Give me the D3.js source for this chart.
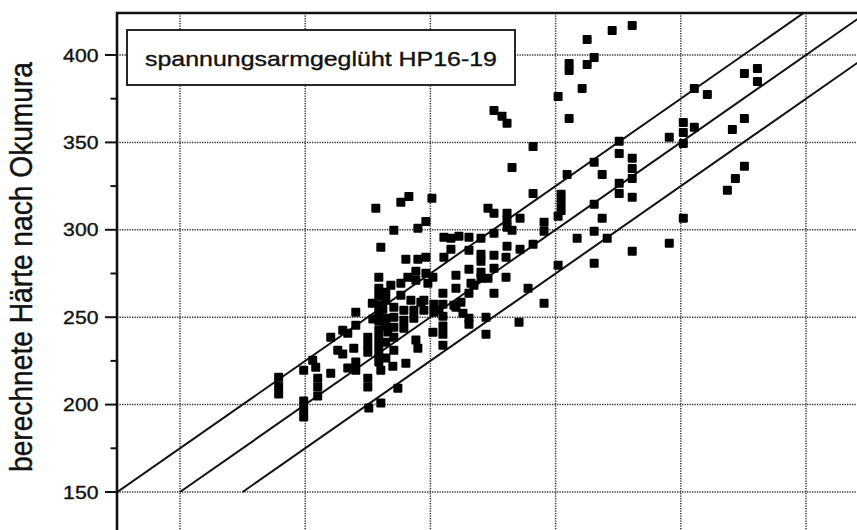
<!DOCTYPE html>
<html><head><meta charset="utf-8">
<script src="https://cdn.jsdelivr.net/npm/d3@7"></script>
<style>
html,body{margin:0;padding:0;background:#fff;}
svg{display:block;}
text{font-family:"Liberation Sans",Arial,Helvetica,sans-serif;fill:#111;stroke:#111;stroke-width:0.35px;}
</style></head><body>
<svg id="c" width="857" height="530"></svg>
<script>
// measured hardness (x) and calculated hardness after Okumura (y)
const gemessen = [
189.4,189.4,189.4,199.4,199.4,199.4,199.4,203.0,204.2,205.0,205.0,205.0,210.2,210.2,215.0,217.0,213.0,215.0,219.4,220.2,
220.2,217.0,220.2,220.2,225.0,225.0,225.0,225.0,225.0,225.4,230.2,230.2,235.0,240.2,237.0,244.2,245.0,251.0,255.0,255.0,
255.0,272.2,272.2,228.2,238.2,241.4,250.6,235.4,245.0,248.2,230.2,240.2,245.0,248.2,229.4,234.2,241.0,244.2,248.2,251.0,
244.2,229.4,229.4,229.4,229.4,229.4,229.4,229.4,229.4,229.4,229.4,232.2,232.2,232.2,232.2,232.2,232.2,235.4,235.4,235.4,
235.4,235.4,239.4,239.4,239.4,238.2,238.2,242.2,243.4,243.4,247.4,247.4,251.4,251.4,255.0,255.0,259.4,262.2,265.4,265.4,
255.4,258.2,261.4,265.4,270.2,275.4,255.4,258.2,265.4,270.2,270.2,275.4,275.4,260.2,265.4,270.2,270.2,266.2,260.2,255.0,
265.4,267.4,273.0,275.4,249.0,246.2,253.4,260.2,263.0,273.0,275.4,280.6,280.6,280.6,282.6,285.8,275.4,278.6,280.6,282.6,
291.0,291.0,295.4,295.4,280.6,285.8,291.0,280.2,280.2,289.0,295.4,285.4,301.0,305.4,302.2,302.2,302.2,301.0,304.6,315.4,
318.6,315.4,318.6,315.4,308.6,320.6,301.0,315.4,330.6,325.4,325.4,330.6,330.6,330.6,325.4,325.4,330.6,345.4,351.0,305.4,
305.4,310.6,312.6,312.6,315.4,322.6,330.6,355.4,360.6,351.0,351.0,355.4,345.4,351.0,375.4,380.6,380.6,375.4,370.6,375.4,
371.8,368.6,231.0,227.0,233.0,226.8
];
const berechnet = [
215.7,210.6,206.0,202.0,197.4,192.9,219.7,225.4,221.4,215.1,210.0,204.9,238.6,218.0,242.6,240.8,231.1,228.9,232.3,252.9,
245.4,220.9,224.3,219.7,238.6,234.0,230.0,215.1,210.0,198.0,200.9,219.7,222.0,223.7,209.4,236.9,232.3,241.4,244.9,240.3,
234.0,250.0,240.3,312.3,315.7,319.1,318.0,299.7,300.9,304.8,290.0,283.1,283.1,284.3,272.9,268.3,272.9,276.3,275.1,272.9,
271.1,266.6,262.0,256.9,252.3,247.7,242.6,238.0,233.4,228.9,224.3,264.3,259.7,249.4,244.9,235.7,226.6,255.7,250.0,244.3,
238.6,231.1,254.0,248.3,243.7,262.6,269.4,259.7,254.0,249.4,259.7,254.0,257.4,252.9,257.4,250.6,256.9,258.6,249.4,246.0,
295.7,295.1,296.3,295.7,295.1,298.0,284.3,288.9,288.3,286.0,282.0,285.4,278.0,274.0,277.4,275.7,272.3,269.4,266.6,263.7,
263.7,268.3,272.3,263.7,269.4,258.6,254.0,255.7,252.3,312.3,309.4,309.4,305.4,301.4,299.7,306.6,368.3,364.9,360.9,335.7,
347.7,320.8,304.3,299.1,290.6,288.9,291.7,284.3,272.9,266.6,258.0,247.1,376.3,363.7,320.3,315.7,311.1,307.7,331.7,338.6,
331.7,314.6,306.6,299.1,295.1,295.1,279.7,280.9,287.7,350.6,343.7,340.9,335.1,329.4,326.6,320.8,318.6,292.3,306.6,395.1,
391.1,380.9,408.9,394.6,398.6,414.0,416.9,380.9,377.4,361.4,355.7,358.6,352.9,349.4,389.4,392.3,384.9,363.7,357.4,336.3,
329.4,322.6,254.5,249.0,241.5,258.0
];
const yMajorTicks = [150, 200, 250, 300, 350, 400];
const yMinorTicks = [175, 225, 275, 325, 375];
const xGrid = [150, 200, 250, 300, 350, 400];
const bandOffsets = [25, 0, -25];   // y = x + offset
const legendText = "spannungsarmgeglüht HP16-19";
const yTitle = "berechnete Härte nach Okumura";

const svg = d3.select("#c");
const W = 857, H = 530;
const pL = 117, pT = 13;
const x = d3.scaleLinear().domain([150, 400]).range([180, 806]);
const y = d3.scaleLinear().domain([150, 400]).range([492, 55]);

svg.append("defs").append("clipPath").attr("id", "plot")
  .append("rect").attr("x", pL).attr("y", pT).attr("width", W - pL).attr("height", H - pT);

const g = svg.append("g").attr("clip-path", "url(#plot)");

// grid
g.selectAll("line.hg").data(yMajorTicks).join("line")
  .attr("x1", pL).attr("x2", W).attr("y1", d => y(d)).attr("y2", d => y(d))
  .attr("stroke", "#333").attr("stroke-width", 1.5).attr("stroke-dasharray", "1.3,1.2");
g.selectAll("line.vg").data(xGrid).join("line")
  .attr("x1", d => x(d)).attr("x2", d => x(d)).attr("y1", pT).attr("y2", H)
  .attr("stroke", "#333").attr("stroke-width", 1.5).attr("stroke-dasharray", "1.3,1.2");

// diagonal lines y = x + offset, starting at y = 150
g.selectAll("line.diag").data(bandOffsets).join("line")
  .attr("x1", d => x(150 - d)).attr("y1", y(150))
  .attr("x2", d => x(500 - d)).attr("y2", y(500))
  .attr("stroke", "#111").attr("stroke-width", 2);

// points
const s = 9;
g.selectAll("rect.pt").data(d3.range(gemessen.length)).join("rect")
  .attr("x", i => x(gemessen[i]) - s / 2).attr("y", i => y(berechnet[i]) - s / 2)
  .attr("width", s).attr("height", s).attr("rx", 1).attr("fill", "#000");

// legend box
svg.append("rect").attr("x", 127).attr("y", 30).attr("width", 388).attr("height", 55)
  .attr("fill", "#fff").attr("stroke", "#111").attr("stroke-width", 1.8);
svg.append("text").attr("x", 145).attr("y", 65.5).attr("font-size", 21)
  .attr("textLength", 352).attr("lengthAdjust", "spacingAndGlyphs").text(legendText);

// frame: left axis and top border
svg.append("line").attr("x1", pL).attr("x2", pL).attr("y1", pT - 1).attr("y2", H)
  .attr("stroke", "#111").attr("stroke-width", 2.6);
svg.append("line").attr("x1", pL - 1).attr("x2", W).attr("y1", pT).attr("y2", pT)
  .attr("stroke", "#111").attr("stroke-width", 2.6);

// y axis ticks
svg.selectAll("line.maj").data(yMajorTicks).join("line")
  .attr("x1", 105).attr("x2", pL).attr("y1", d => y(d)).attr("y2", d => y(d))
  .attr("stroke", "#111").attr("stroke-width", 2);
svg.selectAll("line.min").data(yMinorTicks).join("line")
  .attr("x1", 110.5).attr("x2", pL).attr("y1", d => y(d)).attr("y2", d => y(d))
  .attr("stroke", "#111").attr("stroke-width", 2);
svg.selectAll("text.tl").data(yMajorTicks).join("text")
  .attr("transform", d => `translate(98.5,${y(d) + 6.5}) scale(1.18,1)`)
  .attr("text-anchor", "end").attr("font-size", 18).text(d => d);

// y title
svg.append("text")
  .attr("transform", "translate(32,267) rotate(-90) scale(1,1.18)")
  .attr("text-anchor", "middle").attr("font-size", 27)
  .attr("textLength", 410).attr("lengthAdjust", "spacingAndGlyphs")
  .text(yTitle);
</script>
</body></html>
